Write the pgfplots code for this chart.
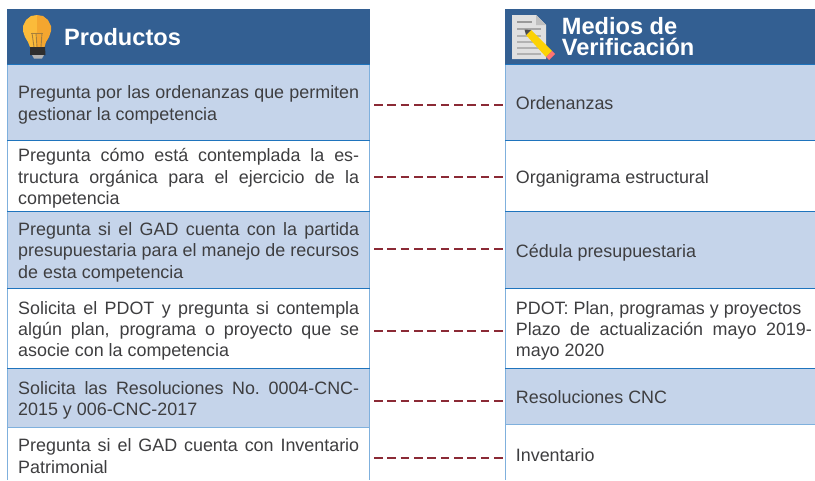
\documentclass[border=0pt]{standalone}
\usepackage{fontspec}
\setmainfont{Liberation Sans}
\usepackage{pgfplots}
\pgfplotsset{compat=1.18}
\definecolor{hdr}{HTML}{335F92}
\definecolor{lite}{HTML}{C5D4EA}
\definecolor{edge}{HTML}{1F74BD}
\definecolor{sedge}{HTML}{7FB0DD}
\definecolor{ink}{HTML}{3E3E40}
\definecolor{dashc}{HTML}{8B2A35}
\newcommand{\rect}[5]{\addplot[fill=#1,draw=none] coordinates {(#2,#3) (#4,#3) (#4,#5) (#2,#5)} --cycle;}
\newcommand{\poly}[2]{\addplot[fill=#1,draw=none] coordinates {#2} --cycle;}
\newcommand{\bodysize}{17.9}
\newcommand{\Jl}[2]{\node[anchor=base west,inner sep=0pt,text=ink,yshift=-0.7pt] at (axis cs:18,#1) {\fontsize{\bodysize}{20}\selectfont\makebox[341pt][s]{#2}};}
\newcommand{\Nl}[3]{\node[anchor=base west,inner sep=0pt,text=ink,yshift=-0.7pt] at (axis cs:#1,#2) {\fontsize{\bodysize}{20}\selectfont #3};}
\begin{document}
\begin{tikzpicture}
\begin{axis}[hide axis,scale only axis,width=815pt,height=480pt,xmin=0,xmax=815,ymin=0,ymax=480,y dir=reverse,clip=true]
\rect{white}{0}{0}{815}{480}
% left panel
\rect{hdr}{7}{9}{370}{64}
\rect{lite}{7}{64}{370}{140}
\rect{lite}{7}{211}{370}{288}
\rect{lite}{7}{368}{370}{427}
% right panel
\rect{hdr}{505}{9}{815}{64}
\rect{lite}{505}{64}{815}{140}
\rect{lite}{505}{211}{815}{288}
\rect{lite}{505}{368}{815}{424}
% borders
\addplot[sedge,line width=1pt] coordinates {(7.5,64) (7.5,480)};
\addplot[sedge,line width=1pt] coordinates {(369.5,64) (369.5,480)};
\addplot[sedge,line width=1.4pt] coordinates {(505.5,64) (505.5,480)};
\addplot[edge,line width=0.9pt] coordinates {(7,64) (370,64)};
\addplot[edge,line width=0.9pt] coordinates {(7,140) (370,140)};
\addplot[edge,line width=0.9pt] coordinates {(7,211) (370,211)};
\addplot[edge,line width=0.9pt] coordinates {(7,288) (370,288)};
\addplot[edge,line width=0.9pt] coordinates {(7,368) (370,368)};
\addplot[sedge,line width=0.9pt] coordinates {(7,427) (370,427)};
\addplot[edge,line width=0.9pt] coordinates {(505,64) (815,64)};
\addplot[edge,line width=0.9pt] coordinates {(505,140) (815,140)};
\addplot[edge,line width=0.9pt] coordinates {(505,211) (815,211)};
\addplot[edge,line width=0.9pt] coordinates {(505,288) (815,288)};
\addplot[edge,line width=0.9pt] coordinates {(505,368) (815,368)};
\addplot[sedge,line width=0.9pt] coordinates {(505,424) (815,424)};
% connectors
\addplot[dashc,line width=2.6pt,dash pattern=on 8.6pt off 4.75pt] coordinates {(374,105) (504,105)};
\addplot[dashc,line width=2.6pt,dash pattern=on 8.6pt off 4.75pt] coordinates {(374,177) (504,177)};
\addplot[dashc,line width=2.6pt,dash pattern=on 8.6pt off 4.75pt] coordinates {(374,249) (504,249)};
\addplot[dashc,line width=2.6pt,dash pattern=on 8.6pt off 4.75pt] coordinates {(374,331) (504,331)};
\addplot[dashc,line width=2.6pt,dash pattern=on 8.6pt off 4.75pt] coordinates {(374,401) (504,401)};
\addplot[dashc,line width=2.6pt,dash pattern=on 8.6pt off 4.75pt] coordinates {(374,458) (504,458)};
% bulb icon
\definecolor{bulbA}{HTML}{FBBB3A}
\definecolor{bulbB}{HTML}{F4A62F}
\definecolor{fil}{HTML}{A77F3C}
\poly{bulbA}{(37,15) (31,16) (26,20) (23,26) (23,31) (25,37) (28,42) (30,47) (37,47)}
\poly{bulbB}{(37,15) (43,16) (48,20) (51,26) (51,31) (49,37) (46,42) (44.5,47) (37,47)}
\poly{black!82}{(30,47) (45,47) (45.5,55) (30,55)}
\poly{black!30}{(32,55) (44,55) (42,58.5) (34,58.5)}
\addplot[fil,line width=0.9pt] coordinates {(31,33) (43,33)};
\addplot[fil,line width=0.9pt] coordinates {(32,33) (34,47)};
\addplot[fil,line width=0.9pt] coordinates {(42,33) (41,47)};
\addplot[fil,line width=0.9pt] coordinates {(36,33) (37,47)};
% document icon
\poly{black!12}{(512,15) (536,15) (546,25) (546,59) (512,59)}
\poly{black!25}{(536,15) (546,25) (536,25)}
\rect{black!40}{517}{21}{532}{23}
\rect{black!35}{517}{28}{541}{30}
\rect{black!30}{517}{35}{541}{37}
\rect{black!30}{517}{41}{541}{43}
\rect{black!30}{517}{47}{541}{49}
\rect{black!30}{517}{53}{541}{55}
\poly{yellow!70!orange}{(526,35) (531,30) (552,51) (546,57)}
\poly{black!70}{(526,35) (531,30) (524.5,29.5)}
\poly{red!55!white}{(546,57) (552,51) (555,54) (549,60)}
% headers
\node[anchor=base west,inner sep=0pt,text=white] at (axis cs:64,45) {\fontsize{23.6}{24}\selectfont\bfseries Productos};
\node[anchor=base west,inner sep=0pt,text=white] at (axis cs:561.7,34.5) {\fontsize{23.6}{24}\selectfont\bfseries Medios de};
\node[anchor=base west,inner sep=0pt,text=white] at (axis cs:561.7,55.9) {\fontsize{23.6}{24}\selectfont\bfseries Verificación};
% left text
\Jl{97.7}{Pregunta por las ordenanzas que permiten}
\Nl{18}{119.5}{gestionar la competencia}
\Jl{160.7}{Pregunta cómo está contemplada la es-}
\Jl{182.7}{tructura orgánica para el ejercicio de la}
\Nl{18}{203.5}{competencia}
\Jl{235}{Pregunta si el GAD cuenta con la partida}
\Jl{256}{presupuestaria para el manejo de recursos}
\Nl{18}{277.7}{de esta competencia}
\Jl{313.3}{Solicita el PDOT y pregunta si contempla}
\Jl{335}{algún plan, programa o proyecto que se}
\Nl{18}{356}{asocie con la competencia}
\Jl{393.3}{Solicita las Resoluciones No.\ 0004-CNC-}
\Nl{18}{414.3}{2015 y 006-CNC-2017}
\Jl{451}{Pregunta si el GAD cuenta con Inventario}
\Nl{18}{472.3}{Patrimonial}
% right text
\Nl{515.7}{108.7}{Ordenanzas}
\Nl{515.7}{182.7}{Organigrama estructural}
\Nl{515.7}{256.7}{Cédula presupuestaria}
\Nl{515.7}{313.3}{PDOT: Plan, programas y proyectos}
\node[anchor=base west,inner sep=0pt,text=ink,yshift=-0.7pt] at (axis cs:515.7,335) {\fontsize{\bodysize}{20}\selectfont\makebox[296pt][s]{Plazo de actualización mayo 2019-}};
\Nl{515.7}{356}{mayo 2020}
\Nl{515.7}{402.7}{Resoluciones CNC}
\Nl{515.7}{460.7}{Inventario}
\end{axis}
\end{tikzpicture}
\end{document}
